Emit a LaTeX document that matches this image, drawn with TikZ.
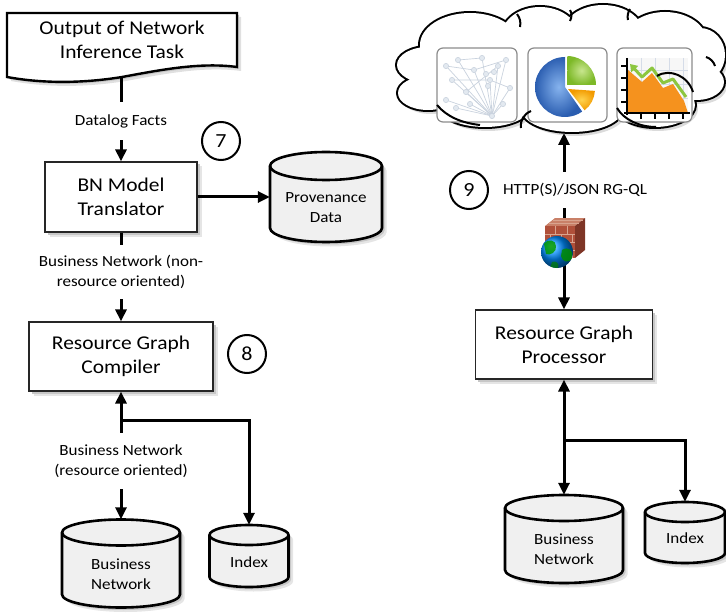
\documentclass[tikz,border=0pt]{standalone}
\usepackage{fontspec}
\setmainfont{Carlito}[FakeStretch=1.1]
\usetikzlibrary{arrows.meta,shadows}

\definecolor{pieblue}{HTML}{2A5DB0}
\definecolor{pieblueL}{HTML}{86B3EE}
\definecolor{piegreen}{HTML}{7DB928}
\definecolor{piegreenL}{HTML}{C8E68E}
\definecolor{pieorange}{HTML}{F29A00}
\definecolor{pieorangeL}{HTML}{FFD34F}
\definecolor{netline}{HTML}{C9D2DE}
\definecolor{netnode}{HTML}{E3E9F0}
\definecolor{brickfront}{HTML}{B0503A}
\definecolor{bricktop}{HTML}{C98068}
\definecolor{brickside}{HTML}{7E3526}
\definecolor{mortar}{HTML}{D9A48F}
\definecolor{chartorange}{HTML}{F5921E}
\definecolor{chartgreen}{HTML}{8CC63F}
\definecolor{chartgrid}{HTML}{D5DCE8}

% database drum: centre x, centre y, width, height, ellipse y-radius
\newcommand\drum[5]{%
  \pgfmathsetmacro\cylL{#1-#3/2}\pgfmathsetmacro\cylR{#1+#3/2}%
  \pgfmathsetmacro\cylT{#2-#4/2+#5}\pgfmathsetmacro\cylB{#2+#4/2-#5}%
  \pgfmathsetmacro\cylRX{#3/2}%
  \foreach \s/\c in {4.5/10, 2.5/22}{%
    \fill[black!\c, shift={(\s,\s)}] (\cylL,\cylT) -- (\cylL,\cylB)
      arc[start angle=180, end angle=0, x radius=\cylRX, y radius=#5]
      -- (\cylR,\cylT)
      arc[start angle=0, end angle=-180, x radius=\cylRX, y radius=#5] -- cycle;}
  \draw[line width=2.6pt, fill=black!6] (\cylL,\cylT) -- (\cylL,\cylB)
    arc[start angle=180, end angle=0, x radius=\cylRX, y radius=#5]
    -- (\cylR,\cylT)
    arc[start angle=0, end angle=-180, x radius=\cylRX, y radius=#5] -- cycle;
  \draw[line width=2.6pt] (\cylL,\cylT)
    arc[start angle=180, end angle=0, x radius=\cylRX, y radius=#5];
}

\begin{document}
\begin{tikzpicture}[x=1pt,y=-1pt,
  conn/.style={line width=3pt, draw=black},
  tip/.style={-{Triangle[length=12pt,width=11pt]}},
  twotips/.style={{Triangle[length=12pt,width=11pt]}-{Triangle[length=12pt,width=11pt]}},
  softshadow/.style={
    drop shadow={shadow xshift=4.5pt,shadow yshift=-4.5pt,fill=black!10,opacity=1},
    drop shadow={shadow xshift=2.5pt,shadow yshift=-2.5pt,fill=black!22,opacity=1}},
  procbox/.style={draw=black!85, line width=1.2pt, fill=white, align=center,
    font=\fontsize{19.5}{24}\selectfont, softshadow},
  storebox/.style={inner sep=0pt},
  storetext/.style={align=center, inner sep=0pt, font=\fontsize{15.5}{20}\selectfont},
  flowlabel/.style={fill=white, align=center, inner xsep=2pt, inner ysep=0pt,
    font=\fontsize{15.5}{20}\selectfont},
  stepno/.style={circle, draw=black, line width=2pt, minimum size=38pt,
    inner sep=0pt, font=\fontsize{20}{20}\selectfont},
  tile/.style={draw=black!45, line width=1.2pt, fill=white, rounded corners=6pt},
  puff/.style={line width=2pt, draw=black}
]
\useasboundingbox (0,0) rectangle (726,615);

% ---------------- left column ----------------
% document-shaped source box
\begin{scope}[shift={(4,4)}]
  \fill[black!12] (7,13) -- (237,13) -- (237,67)
    .. controls (200,62) and (160,70) .. (122,77)
    .. controls (85,83) and (45,84) .. (7,77) -- cycle;
\end{scope}
\begin{scope}[shift={(2,2)}]
  \fill[black!22] (7,13) -- (237,13) -- (237,67)
    .. controls (200,62) and (160,70) .. (122,77)
    .. controls (85,83) and (45,84) .. (7,77) -- cycle;
\end{scope}
\draw[line width=2.4pt, fill=white] (7,13) -- (237,13) -- (237,67)
  .. controls (200,62) and (160,70) .. (122,77)
  .. controls (85,83) and (45,84) .. (7,77) -- cycle;
\node[align=center, font=\fontsize{19.5}{24}\selectfont] (task) at (122,40)
  {Output of Network\\Inference Task};
\coordinate (taskB) at (121,77);

\node[procbox, minimum width=152pt, minimum height=70pt] (bn) at (121,197)
  {BN Model\\Translator};
\node[stepno] (s7) at (221,141) {7};

\drum{326}{197}{112}{90}{14}
\node[storebox, minimum width=112pt, minimum height=90pt] (prov) at (326,197) {};
\node[storetext] (provt) at (326,208) {Provenance\\Data};

\node[procbox, minimum width=184pt, minimum height=69pt] (rgc) at (121,356.5)
  {Resource Graph\\Compiler};
\node[stepno] (s8) at (247,354) {8};

\coordinate (jL) at (121,420);
\drum{121}{563.5}{118}{88}{13}
\node[storebox, minimum width=118pt, minimum height=88pt] (bnL) at (121,563.5) {};
\node[storetext] (bnLt) at (121,574) {Business\\Network};
\drum{249}{556}{79}{62}{10}
\node[storebox, minimum width=79pt, minimum height=62pt] (idxL) at (249,556) {};
\node[storetext] (idxLt) at (249,562) {Index};

\draw[conn, tip] (taskB) -- (bn.north);
\draw[conn, tip] (bn.east) -- (prov.west);
\draw[conn, tip] (bn.south) -- (rgc.north);
\draw[conn, tip] (jL) -- (rgc.south);
\draw[conn, tip] (jL) -- (bnL.north);
\draw[conn, tip] (jL) -| (idxL.north);

\node[flowlabel, minimum height=38pt] (lblA) at (121,121) {Datalog Facts};
\node[flowlabel, minimum height=54pt] (lblB) at (121,272)
  {Business Network (non-\\resource oriented)};
\node[flowlabel, minimum height=56pt] (lblC) at (121,461)
  {Business Network\\(resource oriented)};

% ---------------- cloud ----------------
\def\lobes{%
  (470,45) ellipse [x radius=50, y radius=32]
  (540,35) ellipse [x radius=38, y radius=28]
  (603,33) ellipse [x radius=40, y radius=28]
  (665,42) ellipse [x radius=42, y radius=30]
  (700,55) ellipse [x radius=25, y radius=27]
  (697,82) ellipse [x radius=27, y radius=18]
  (655,105) ellipse [x radius=40, y radius=22]
  (572,110) ellipse [x radius=50, y radius=22]
  (485,107) ellipse [x radius=45, y radius=20]
  (428,93) ellipse [x radius=30, y radius=17]
  (428,65) ellipse [x radius=31, y radius=18]
  (560,72) ellipse [x radius=125, y radius=45]}
\begin{scope}[shift={(3,4)}]
  \fill[black!14] \lobes;
\end{scope}
\draw[line width=4pt] \lobes;
\fill[white] \lobes;
\coordinate (cloudB) at (564,133);

% tile: network graph
\node[tile, minimum width=80pt, minimum height=74pt] (tnet) at (477,85) {};
\begin{scope}[netline, line width=0.7pt]
  \foreach \p in {(446,66),(452,80),(458,60),(466,92),(474,70),(482,58),
                  (490,80),(498,66),(506,60),(510,88),(446,100),(456,108),(470,104),(503,104)}
    \draw (492,116) -- \p;
  \draw (446,66) -- (474,70) -- (506,60);
  \draw (452,80) -- (490,80) -- (510,88);
  \draw (458,60) -- (482,58);
  \draw (466,92) -- (498,66);
\end{scope}
\foreach \p in {(446,66),(452,80),(458,60),(466,92),(474,70),(482,58),(490,80),
                (498,66),(506,60),(510,88),(446,100),(456,108),(470,104),(503,104),
                (486,74),(494,72),(488,86),(492,116)}
  \filldraw[fill=netnode, draw=netline, line width=0.6pt] \p circle (2.6);

% tile: pie chart
\node[tile, minimum width=79pt, minimum height=74pt] (tpie) at (567.5,85) {};
\begin{scope}[shift={(565,87)}, yscale=-1]
  \shade[inner color=pieblueL, outer color=pieblue]
    (0,0) -- (90:30) arc[start angle=90, end angle=305, radius=30] -- cycle;
  \shade[inner color=piegreenL, outer color=piegreen]
    (2,2) -- ++(89:29) arc[start angle=89, end angle=0, radius=29] -- cycle;
  \shade[inner color=pieorangeL, outer color=pieorange]
    (3,-2) -- ++(-4:27) arc[start angle=-4, end angle=-52, radius=27] -- cycle;
\end{scope}

% tile: area chart
\node[tile, minimum width=75pt, minimum height=74pt] (tchart) at (654.5,85) {};
\fill[black!3] (627,58) rectangle (688,113);
\draw[chartgrid, line width=0.7pt]
  (641,58) -- (641,113) (655,58) -- (655,113) (669,58) -- (669,113) (683,58) -- (683,113)
  (627,70) -- (688,70) (627,84) -- (688,84) (627,98) -- (688,98);
\fill[chartorange] (628,113) -- (628,70) -- (642,82) -- (652,73) -- (663,88)
  -- (673,84) -- (684,101) -- (688,113) -- cycle;
\draw[chartgreen, line width=3pt, line join=round,
  {Triangle[length=7pt,width=9pt]}-]
  (630,64) -- (642,77) -- (652,68) -- (663,83) -- (673,79) -- (686,97);
\draw[black, line width=2pt] (627,58) -- (627,115) (624,113) -- (690,113);
\draw[black, line width=2.4pt]
  (621,66) -- (627,66) (621,78) -- (627,78) (621,90) -- (627,90) (621,102) -- (627,102)
  (641,113) -- (641,119) (655,113) -- (655,119) (669,113) -- (669,119) (683,113) -- (683,119);

% cloud arcs passing in front of the tiles
\draw[puff] (437,105) .. controls (447,117) and (462,123) .. (480,125);
\draw[puff] (521,128) .. controls (520,120) and (524,114) .. (531,111);
\draw[puff] (617,108) .. controls (624,120) and (640,127) .. (656,127);
\draw[puff] (657,76) .. controls (670,68) and (688,76) .. (693,92);
\draw[puff] (517,14) .. controls (520,18) and (521,22) .. (520,27);
\draw[puff] (570,10) .. controls (572,13) and (572,17) .. (570,21);
\draw[puff] (630,9) .. controls (628,12) and (627,16) .. (628,20);
\draw[puff] (706,57) .. controls (710,58) and (714,62) .. (715,66);

% ---------------- right column ----------------
\node[procbox, minimum width=177pt, minimum height=69pt] (rgp) at (564,344.5)
  {Resource Graph\\Processor};
\coordinate (jR) at (564,440);
\drum{564}{539}{118}{88}{13}
\node[storebox, minimum width=118pt, minimum height=88pt] (bnR) at (564,539) {};
\node[storetext] (bnRt) at (564,549.5) {Business\\Network};
\drum{685}{532.5}{80}{61}{10}
\node[storebox, minimum width=80pt, minimum height=61pt] (idxR) at (685,532.5) {};
\node[storetext] (idxRt) at (685,538.5) {Index};

\draw[conn, twotips] (rgp.north) -- (cloudB);
\draw[conn, twotips] (rgp.south) -- (bnR.north);
\draw[conn, tip] (jR) -| (idxR.north);

\node[flowlabel, minimum height=36pt] (lblD) at (575,190) {HTTP(S)/JSON RG-QL};
\node[stepno] (s9) at (469,190) {9};

% firewall icon: brick wall with a globe in front
\fill[bricktop] (545,226) -- (555,218) -- (585,218) -- (575,226) -- cycle;
\fill[brickside] (575,226) -- (585,218) -- (585,250) -- (575,258) -- cycle;
\fill[brickfront] (545,226) rectangle (575,258);
\draw[mortar, line width=0.8pt]
  (545,234) -- (575,234) (545,242) -- (575,242) (545,250) -- (575,250)
  (555,226) -- (555,234) (567,226) -- (567,234)
  (550,234) -- (550,242) (561,234) -- (561,242) (572,234) -- (572,242)
  (555,242) -- (555,250) (567,242) -- (567,250)
  (550,250) -- (550,258) (561,250) -- (561,258) (572,250) -- (572,258)
  (553,220) -- (583,220) (549,223) -- (579,223);
\shade[ball color=cyan!55!blue] (557,252) circle (16);
\begin{scope}
  \clip (557,252) circle (16);
  \fill[green!60!black, opacity=0.85] (544,244) .. controls (548,238) and (556,240) .. (556,246)
    .. controls (557,252) and (550,256) .. (546,254) -- cycle;
  \fill[green!55!black, opacity=0.85] (562,250) .. controls (568,246) and (574,250) .. (572,258)
    .. controls (569,264) and (562,262) .. (561,256) -- cycle;
  \fill[green!50!black, opacity=0.7] (552,262) .. controls (556,260) and (560,264) .. (558,268)
    -- (550,268) -- cycle;
\end{scope}

\end{tikzpicture}
\end{document}
